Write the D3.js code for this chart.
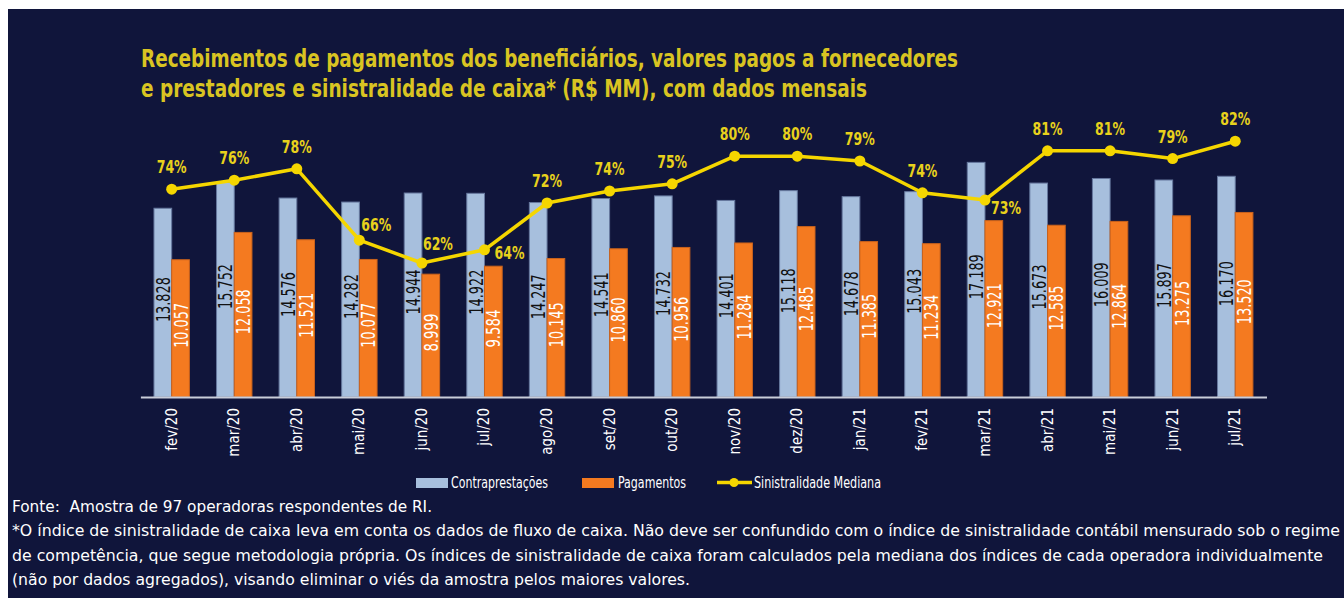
<!DOCTYPE html>
<html>
<head>
<meta charset="utf-8">
<script src="https://cdn.jsdelivr.net/npm/d3@7"></script>
<style>
  body { margin: 0; background: #fff; }
  svg { display: block; }
  text { white-space: pre; }
</style>
</head>
<body>
<div id="chart"></div>
<script>
// dados mensais
months = ["fev/20", "mar/20", "abr/20", "mai/20", "jun/20", "jul/20", "ago/20", "set/20", "out/20",
    "nov/20", "dez/20", "jan/21", "fev/21", "mar/21", "abr/21", "mai/21", "jun/21", "jul/21"];
contraprestacoes = [13.828, 15.752, 14.576, 14.282, 14.944, 14.922, 14.247, 14.541, 14.732,
    14.401, 15.118, 14.678, 15.043, 17.189, 15.673, 16.009, 15.897, 16.170];
pagamentos = [10.057, 12.058, 11.521, 10.077, 8.999, 9.584, 10.145, 10.860, 10.956,
    11.284, 12.485, 11.385, 11.234, 12.921, 12.585, 12.864, 13.275, 13.520];
sinistralidade = [74.3, 75.8, 77.7, 65.8, 62.0, 64.2, 72.0, 74.0, 75.2,
    79.8, 79.8, 79.0, 73.7, 72.5, 80.7, 80.7, 79.4, 82.3];

titleLines = [
    "Recebimentos de pagamentos dos beneficiários, valores pagos a fornecedores",
    "e prestadores e sinistralidade de caixa* (R$ MM), com dados mensais"
];
footLines = [
    "Fonte:  Amostra de 97 operadoras respondentes de RI.",
    "*O índice de sinistralidade de caixa leva em conta os dados de fluxo de caixa. Não deve ser confundido com o índice de sinistralidade contábil mensurado sob o regime",
    "de competência, que segue metodologia própria. Os índices de sinistralidade de caixa foram calculados pela mediana dos índices de cada operadora individualmente",
    "(não por dados agregados), visando eliminar o viés da amostra pelos maiores valores."
];

const FONT = '"Liberation Sans Narrow", "Arial Narrow", "DejaVu Sans Condensed", sans-serif';
const BLUE = "#a7bfdd", ORANGE = "#f47a20", YELLOW = "#f5d600", TITLE = "#d9c422", BG = "#10153b";

const width = 1344, height = 598;
const baseY = 397;

// rotulos de % que nao ficam acima do ponto: [dx, dy da linha de base]
const pctOffset = { 3: [17, -9], 4: [16, -13], 5: [25, 9], 13: [21, 14] };

var svg = d3.select("#chart").append("svg")
    .attr("width", width)
    .attr("height", height)
    .style("font-family", FONT);

svg.append("rect")
    .attr("x", 8).attr("y", 9)
    .attr("width", width - 8).attr("height", height - 9)
    .attr("fill", BG);

// titulo
svg.append("g").selectAll("text")
    .data(titleLines)
    .join("text")
    .attr("x", 141)
    .attr("y", (d, i) => 67 + i * 30)
    .attr("fill", TITLE)
    .attr("font-size", 25)
    .attr("font-weight", "bold")
    .attr("textLength", (d, i) => [817, 726][i])
    .attr("lengthAdjust", "spacingAndGlyphs")
    .text(d => d);

var x = d3.scaleBand()
    .domain(months)
    .range([140.4, 1266.5])
    .paddingInner(0.434)
    .paddingOuter(0.217);
var x1 = d3.scaleBand()
    .domain(["c", "p"])
    .range([0, x.bandwidth()]);
var y = d3.scaleLinear()
    .domain([0, 20])
    .range([baseY, baseY - 20 * 13.65]);
var yPct = d3.scaleLinear()
    .domain([50, 90])
    .range([335, 95]);

rows = months.map((m, i) => ({ m: m, i: i, c: contraprestacoes[i], p: pagamentos[i], s: sinistralidade[i] }));

var groups = svg.append("g").selectAll("g")
    .data(rows)
    .join("g")
    .attr("transform", d => `translate(${x(d.m)},0)`);

groups.append("rect")
    .attr("x", x1("c"))
    .attr("y", d => y(d.c))
    .attr("width", x1.bandwidth())
    .attr("height", d => baseY - y(d.c))
    .attr("fill", BLUE)
    .attr("stroke", "#66789e")
    .attr("stroke-width", 1);

groups.append("rect")
    .attr("x", x1("p"))
    .attr("y", d => y(d.p))
    .attr("width", x1.bandwidth())
    .attr("height", d => baseY - y(d.p))
    .attr("fill", ORANGE)
    .attr("stroke", "#c9621c")
    .attr("stroke-width", 1);

// rotulos de valor dentro das barras
fmt = v => d3.format(".3f")(v);
groups.append("text")
    .attr("transform", d => `translate(${x1("c") + x1.bandwidth() / 2},${(y(d.c) + baseY) / 2 - 3}) rotate(-90)`)
    .attr("text-anchor", "middle")
    .attr("dominant-baseline", "central")
    .attr("font-size", 20)
    .attr("textLength", 45)
    .attr("lengthAdjust", "spacingAndGlyphs")
    .attr("fill", "#111")
    .text(d => fmt(d.c));

groups.append("text")
    .attr("transform", d => `translate(${x1("p") + x1.bandwidth() / 2},${(y(d.p) + baseY) / 2 - 3}) rotate(-90)`)
    .attr("text-anchor", "middle")
    .attr("dominant-baseline", "central")
    .attr("font-size", 20)
    .attr("textLength", d => d.p < 10 ? 38 : 45)
    .attr("lengthAdjust", "spacingAndGlyphs")
    .attr("fill", "#fff")
    .text(d => fmt(d.p));

// eixo x
var gx = svg.append("g")
    .attr("transform", `translate(0,${baseY})`)
    .call(d3.axisBottom(x).tickSize(0).tickSizeOuter(0));
gx.select(".domain").attr("stroke", "#c9cdd9").attr("stroke-width", 2);
gx.selectAll("text")
    .attr("fill", "#fff")
    .attr("font-family", FONT)
    .attr("font-size", 15)
    .attr("text-anchor", "end")
    .attr("dominant-baseline", "central")
    .attr("transform", "translate(0,11) rotate(-90)")
    .attr("x", 0).attr("y", 0).attr("dy", null);

// linha de sinistralidade
var cx = d => x(d.m) + x.bandwidth() / 2;
svg.append("path")
    .datum(rows)
    .attr("fill", "none")
    .attr("stroke", YELLOW)
    .attr("stroke-width", 3.5)
    .attr("stroke-linejoin", "round")
    .attr("d", d3.line().x(cx).y(d => yPct(d.s)));

svg.append("g").selectAll("circle")
    .data(rows)
    .join("circle")
    .attr("cx", cx)
    .attr("cy", d => yPct(d.s))
    .attr("r", 5.5)
    .attr("fill", YELLOW);

svg.append("g").selectAll("text")
    .data(rows)
    .join("text")
    .attr("x", d => cx(d) + (pctOffset[d.i] ? pctOffset[d.i][0] : 0) - 15)
    .attr("y", d => yPct(d.s) + (pctOffset[d.i] ? pctOffset[d.i][1] : -16))
    .attr("font-size", 18)
    .attr("font-weight", "bold")
    .attr("textLength", 30)
    .attr("lengthAdjust", "spacingAndGlyphs")
    .attr("fill", "#e8d11c")
    .text(d => Math.round(d.s) + "%");

// legenda
var lg = svg.append("g").attr("font-size", 15).attr("fill", "#fff");
lg.append("rect").attr("x", 416).attr("y", 478).attr("width", 32).attr("height", 10).attr("fill", BLUE);
lg.append("text").attr("x", 451).attr("y", 488).attr("textLength", 97)
    .attr("lengthAdjust", "spacingAndGlyphs").text("Contraprestações");
lg.append("rect").attr("x", 582).attr("y", 478).attr("width", 32).attr("height", 10).attr("fill", ORANGE);
lg.append("text").attr("x", 618).attr("y", 488).attr("textLength", 68)
    .attr("lengthAdjust", "spacingAndGlyphs").text("Pagamentos");
lg.append("line").attr("x1", 717).attr("x2", 752).attr("y1", 482.5).attr("y2", 482.5)
    .attr("stroke", YELLOW).attr("stroke-width", 3.5);
lg.append("circle").attr("cx", 734).attr("cy", 482.5).attr("r", 4.5).attr("fill", YELLOW);
lg.append("text").attr("x", 754).attr("y", 488).attr("textLength", 127)
    .attr("lengthAdjust", "spacingAndGlyphs").text("Sinistralidade Mediana");

// nota de rodape
footLen = [420, 1328, 1311, 678];
svg.append("g").selectAll("text")
    .data(footLines)
    .join("text")
    .attr("x", 12)
    .attr("y", (d, i) => 512 + i * 24.3)
    .attr("font-size", 16.5)
    .attr("fill", "#fff")
    .attr("textLength", (d, i) => footLen[i])
    .attr("lengthAdjust", "spacingAndGlyphs")
    .text(d => d);
</script>
</body>
</html>
